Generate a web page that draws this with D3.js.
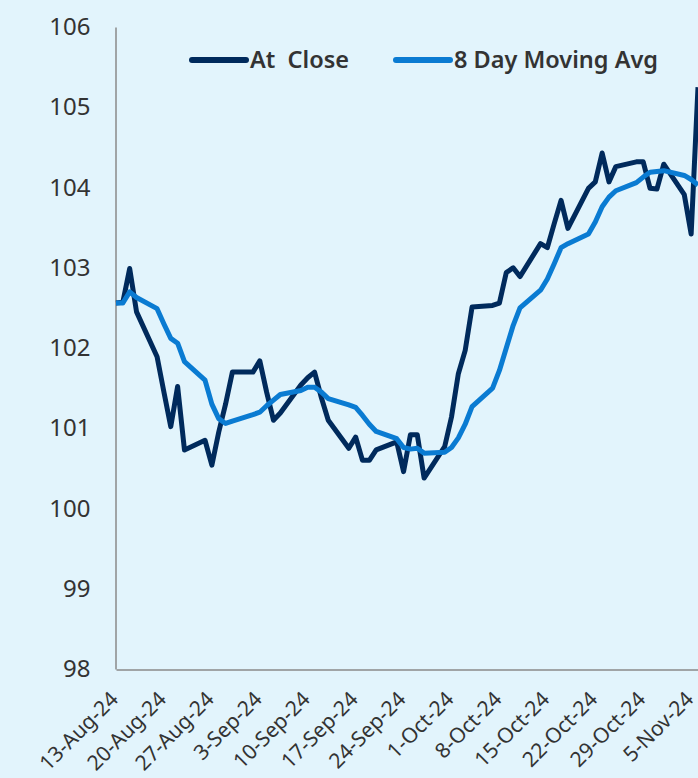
<!DOCTYPE html>
<html>
<head>
<meta charset="utf-8">
<script src="https://cdn.jsdelivr.net/npm/d3@7"></script>
<style>
	html, body { margin: 0; padding: 0; background: #e2f4fc; }
	svg { display: block; font-family: "Noto Sans", "Open Sans", sans-serif; }
</style>
</head>
<body>
<svg id="chart" width="698" height="778"></svg>
<script>
// trading days shown on the chart
var dates = [
	"13-Aug-24", "14-Aug-24", "15-Aug-24", "16-Aug-24",
	"19-Aug-24", "20-Aug-24", "21-Aug-24", "22-Aug-24", "23-Aug-24",
	"26-Aug-24", "27-Aug-24", "28-Aug-24", "29-Aug-24", "30-Aug-24",
	"2-Sep-24", "3-Sep-24", "4-Sep-24", "5-Sep-24", "6-Sep-24",
	"9-Sep-24", "10-Sep-24", "11-Sep-24", "12-Sep-24", "13-Sep-24",
	"16-Sep-24", "17-Sep-24", "18-Sep-24", "19-Sep-24", "20-Sep-24",
	"23-Sep-24", "24-Sep-24", "25-Sep-24", "26-Sep-24", "27-Sep-24",
	"30-Sep-24", "1-Oct-24", "2-Oct-24", "3-Oct-24", "4-Oct-24",
	"7-Oct-24", "8-Oct-24", "9-Oct-24", "10-Oct-24", "11-Oct-24",
	"14-Oct-24", "15-Oct-24", "16-Oct-24", "17-Oct-24", "18-Oct-24",
	"21-Oct-24", "22-Oct-24", "23-Oct-24", "24-Oct-24", "25-Oct-24",
	"28-Oct-24", "29-Oct-24", "30-Oct-24", "31-Oct-24", "1-Nov-24",
	"4-Nov-24", "5-Nov-24", "6-Nov-24"
];

var atClose = [
	102.56, 102.57, 102.99, 102.45,
	101.89, 101.45, 101.02, 101.52, 100.73,
	100.85, 100.54, 100.95, 101.30, 101.70,
	101.70, 101.84, 101.45, 101.10, 101.19,
	101.54, 101.63, 101.70, 101.38, 101.10,
	100.75, 100.89, 100.60, 100.60, 100.73,
	100.83, 100.46, 100.92, 100.92, 100.38,
	100.77, 101.14, 101.68, 101.97, 102.51,
	102.53, 102.56, 102.94, 103.00, 102.89,
	103.30, 103.25, 103.55, 103.84, 103.49,
	103.99, 104.07, 104.43, 104.07, 104.26,
	104.32, 104.32, 103.99, 103.98, 104.29,
	103.91, 103.42, 105.25
];

var movingAvg = [
	102.56, 102.56, 102.70, 102.63,
	102.49, 102.30, 102.12, 102.06, 101.83,
	101.60, 101.30, 101.12, 101.06, 101.09,
	101.17, 101.20, 101.28, 101.35, 101.42,
	101.47, 101.51, 101.51, 101.45, 101.37,
	101.29, 101.26, 101.16, 101.05, 100.96,
	100.87, 100.76, 100.74, 100.75, 100.69,
	100.70, 100.76, 100.88, 101.05, 101.27,
	101.50, 101.72, 102.00, 102.28, 102.50,
	102.72, 102.86, 103.05, 103.25, 103.30,
	103.42, 103.57, 103.76, 103.88, 103.96,
	104.06, 104.13, 104.19, 104.20, 104.21,
	104.15, 104.10, 104.03
];

var tickDates = [
	"13-Aug-24", "20-Aug-24", "27-Aug-24", "3-Sep-24", "10-Sep-24",
	"17-Sep-24", "24-Sep-24", "1-Oct-24", "8-Oct-24", "15-Oct-24",
	"22-Oct-24", "29-Oct-24", "5-Nov-24"
];
var yTicks = [98, 99, 100, 101, 102, 103, 104, 105, 106];

var seriesNames = ["At  Close", "8 Day Moving Avg"];
var seriesColors = ["#002a5c", "#0a7bd2"];

var parse = d3.utcParse("%d-%b-%y");
var format = d3.utcFormat("%-d-%b-%y");

var svg = d3.select("#chart");

// the plot runs off the right edge of the picture, last day sits on the border
var x = d3.scaleUtc()
	.domain([parse("13-Aug-24"), parse("6-Nov-24")])
	.range([116, 698]);
var y = d3.scaleLinear()
	.domain([98, 106])
	.range([669, 27]);

var axisColor = "#8a8a8a";
var textColor = "#333333";

// y axis
var yAxis = svg.append("g")
	.attr("transform", "translate(115.5,0)")
	.call(d3.axisLeft(y).tickValues(yTicks).tickSize(0).tickSizeOuter(0).tickPadding(25).tickFormat(d3.format("d")))
	.attr("font-family", null)
	.attr("font-size", null);
yAxis.select(".domain").attr("stroke", axisColor).attr("stroke-width", 1.5);
yAxis.selectAll("text")
	.attr("fill", textColor)
	.style("font-size", "24px")
	.attr("dy", "0.32em");

// x axis, labels turned so they end at their tick
var xAxis = svg.append("g")
	.attr("transform", "translate(0,669.5)")
	.call(d3.axisBottom(x).tickValues(tickDates.map(parse)).tickSize(0).tickSizeOuter(0).tickFormat(format))
	.attr("font-family", null)
	.attr("font-size", null);
xAxis.select(".domain").attr("stroke", axisColor).attr("stroke-width", 1.5);
xAxis.selectAll("text")
	.attr("fill", textColor)
	.style("font-size", "21px")
	.attr("text-anchor", "end")
	.attr("x", 0)
	.attr("y", 0)
	.attr("dy", 0)
	.attr("transform", "translate(3,31) rotate(-45)");

var line = d3.line()
	.x(function(d) { return x(d.date); })
	.y(function(d) { return y(d.value); });

function toPoints(values) {
	return values.map(function(v, i) {
		return { date: parse(dates[i]), value: v };
	});
}

[atClose, movingAvg].forEach(function(values, i) {
	svg.append("path")
		.datum(toPoints(values))
		.attr("fill", "none")
		.attr("stroke", seriesColors[i])
		.attr("stroke-width", 5)
		.attr("stroke-linejoin", "round")
		.attr("d", line);
});

// legend
var legendX = [192, 396];
var legend = svg.append("g");
seriesNames.forEach(function(name, i) {
	legend.append("line")
		.attr("x1", legendX[i])
		.attr("x2", legendX[i] + 54)
		.attr("y1", 60)
		.attr("y2", 60)
		.attr("stroke", seriesColors[i])
		.attr("stroke-width", 6)
		.attr("stroke-linecap", "round");
	legend.append("text")
		.attr("x", legendX[i] + 58)
		.attr("y", 60)
		.attr("dy", "0.35em")
		.attr("fill", textColor)
		.style("font-size", "23.5px")
		.style("font-weight", 600)
		.style("white-space", "pre")
		.text(name);
});
</script>
</body>
</html>
